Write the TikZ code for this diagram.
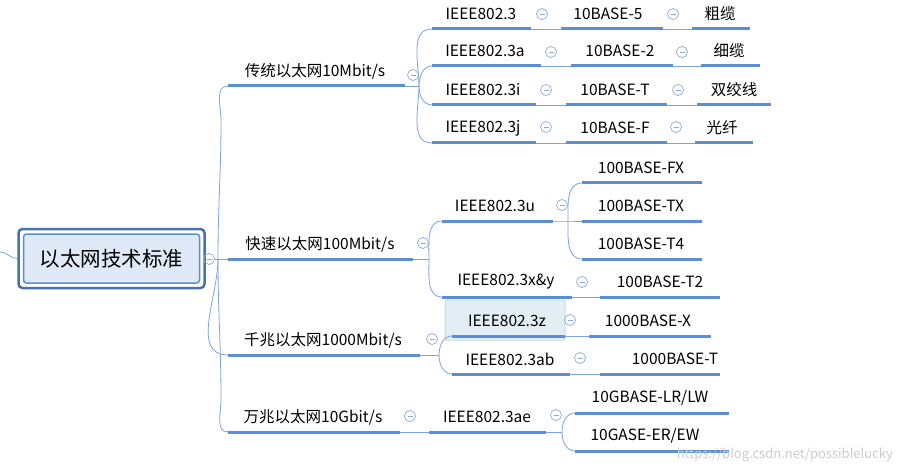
\documentclass[tikz,border=0pt]{standalone}
\usepackage{fontspec}
\setmainfont{Noto Sans CJK SC}
\begin{document}
\begin{tikzpicture}[x=1pt,y=-1pt,
  ul/.style={draw=ulc,line width=3pt},
  con/.style={draw=conc,line width=0.8pt},
  lbl/.style={font=\fontsize{15.5}{17}\selectfont,inner sep=0pt,anchor=center},
  col/.style={circle,draw=colc,line width=0.7pt,minimum size=11pt,inner sep=0pt,
    path picture={\draw[colc,line width=0.7pt] ([xshift=-2.5pt]path picture bounding box.center)--([xshift=2.5pt]path picture bounding box.center);}}]
\definecolor{ulc}{HTML}{5A8ED6}
\definecolor{conc}{HTML}{7CA2E0}
\definecolor{colc}{HTML}{8EAAD8}
\useasboundingbox (0,0) rectangle (904,473);
\fill[white] (0,0) rectangle (904,473);
\newcommand\itm[6]{%
  \coordinate (#1-l) at (#2,#4); \coordinate (#1-r) at (#3,#4);
  \draw[ul] (#1-l) -- (#1-r);
  \node[lbl] (#1) at (#6,#4-15) {#5};}
\newcommand\colp[3]{\node[col] (#1) at (#2,#3) {};}
% root
\node[draw=ulc!80!black,line width=2.5pt,rounded corners=4pt,minimum width=186pt,minimum height=59pt] (rootb) at (111.5,258.5) {};
\node[draw=ulc,fill=blue!5!ulc!18,line width=1.5pt,rounded corners=3pt,minimum width=176pt,minimum height=49pt,
  font=\fontsize{20.5}{24}\selectfont] (root) at (111.5,258.5) {以太网技术标准};
\coordinate (lft) at (0,252);
\draw[con] (lft) to[out=0,in=180] (rootb.west);
\colp{c0}{209}{259}
% level 1
\itm{a}{228}{405}{86}{传统以太网10Mbit/s}{315}
\itm{b}{228}{413}{259}{快速以太网100Mbit/s}{320}
\itm{c}{228}{420}{355}{千兆以太网1000Mbit/s}{323}
\itm{d}{228}{400}{432}{万兆以太网10Gbit/s}{313}
\coordinate (r0) at (218,259);
\draw[con] (c0.east) -- (b-l);
\draw[con] (r0) to[out=90,in=-90] (221,120) to[out=90,in=180] (a-l);
\draw[con] (r0) to[out=-90,in=90] (221,400) to[out=-90,in=180] (d-l);
\draw[con] (r0) to[out=-90,in=180] (c-l);
% 10M
\colp{ca}{413}{75}
\itm{a1}{432}{531}{29}{IEEE802.3}{481}
\itm{a2}{432}{541}{66}{IEEE802.3a}{485}
\itm{a3}{432}{536}{105}{IEEE802.3i}{483}
\itm{a4}{432}{536}{143}{IEEE802.3j}{483}
\coordinate (ab) at (419,86);
\draw[con] (a-r) -- (ab);
\foreach \n in {a1,a2}{\draw[con] (ab) to[out=90,in=180] (\n-l);}
\draw[con] (ab) to[out=-90,in=180] (a3-l);
\draw[con] (ab) to[out=-90,in=180] (a4-l);
\itm{a11}{561}{663}{29}{10BASE-5}{608}
\itm{a12}{692}{750}{29}{粗缆}{720}
\itm{a21}{571}{673}{66}{10BASE-2}{620}
\itm{a22}{701}{760}{66}{细缆}{729}
\itm{a31}{566}{667}{105}{10BASE-T}{615}
\itm{a32}{697}{771}{105}{双绞线}{734}
\itm{a41}{566}{667}{143}{10BASE-F}{615}
\itm{a42}{695}{753}{143}{光纤}{722}
\foreach \p/\q in {a1/a11,a11/a12,a2/a21,a21/a22,a3/a31,a31/a32,a4/a41,a41/a42}{\draw[con] (\p-r) -- (\q-l);}
\colp{x1}{542}{14}\colp{x2}{673}{14}
\colp{x3}{551}{52}\colp{x4}{682}{52}
\colp{x5}{546}{90}\colp{x6}{678}{90}
\colp{x7}{546}{127}\colp{x8}{676}{127}
% 100M
\colp{cb}{423}{243}
\itm{b1}{442}{553}{221}{IEEE802.3u}{495}
\coordinate (bb) at (429,259);
\draw[con] (b-r) -- (bb);
\draw[con] (bb) to[out=90,in=180] (b1-l);
\colp{cb1}{562}{205}
\itm{b11}{582}{702}{183}{100BASE-FX}{641}
\itm{b12}{582}{702}{221}{100BASE-TX}{641}
\itm{b13}{582}{702}{259}{100BASE-T4}{641}
\coordinate (bb1) at (568,221);
\draw[con] (b1-r) -- (bb1) -- (b12-l);
\draw[con] (bb1) to[out=90,in=180] (b11-l);
\draw[con] (bb1) to[out=-90,in=180] (b13-l);
% 1000M highlight box
\fill[fill={rgb,255:red,226;green,238;blue,244},draw={rgb,255:red,197;green,219;blue,229},line width=1pt,rounded corners=2pt] (445,300) rectangle (565,340);
\itm{b2}{442}{572}{297}{IEEE802.3x\&y}{506}
\draw[con] (bb) to[out=-90,in=180] (b2-l);
\colp{cb2}{582}{282}
\itm{b21}{600}{720}{297}{100BASE-T2}{660}
\draw[con] (b2-r) -- (b21-l);
% 1000M
\colp{cc}{432}{339}
\itm{c1}{452}{565}{336}{IEEE802.3z}{507}
\itm{c2}{452}{570}{374}{IEEE802.3ab}{510}
\coordinate (cb0) at (439,355);
\draw[con] (c-r) -- (cb0);
\draw[con] (cb0) to[out=90,in=180] (c1-l);
\draw[con] (cb0) to[out=-90,in=180] (c2-l);
\colp{cc1}{570}{320}\colp{cc2}{580}{358}
\itm{c11}{589}{711}{336}{1000BASE-X}{648}
\itm{c21}{600}{720}{374}{1000BASE-T}{675}
\draw[con] (c1-r) -- (c11-l);
\draw[con] (c2-r) -- (c21-l);
% 10G
\colp{cd}{410}{416}
\itm{d1}{429}{546}{432}{IEEE802.3ae}{487}
\draw[con] (d-r) -- (d1-l);
\colp{cd1}{556}{415}
\itm{d11}{575}{729}{413}{10GBASE-LR/LW}{650}
\itm{d12}{575}{729}{451}{10GASE-ER/EW}{645}
\coordinate (db) at (562,432);
\draw[con] (d1-r) -- (db);
\draw[con] (db) to[out=90,in=180] (d11-l);
\draw[con] (db) to[out=-90,in=180] (d12-l);
% watermark
\node[lbl,text=gray!40,font=\fontsize{13}{15}\selectfont,anchor=east] (wm) at (893,455) {https://blog.csdn.net/possiblelucky};
\end{tikzpicture}
\end{document}
